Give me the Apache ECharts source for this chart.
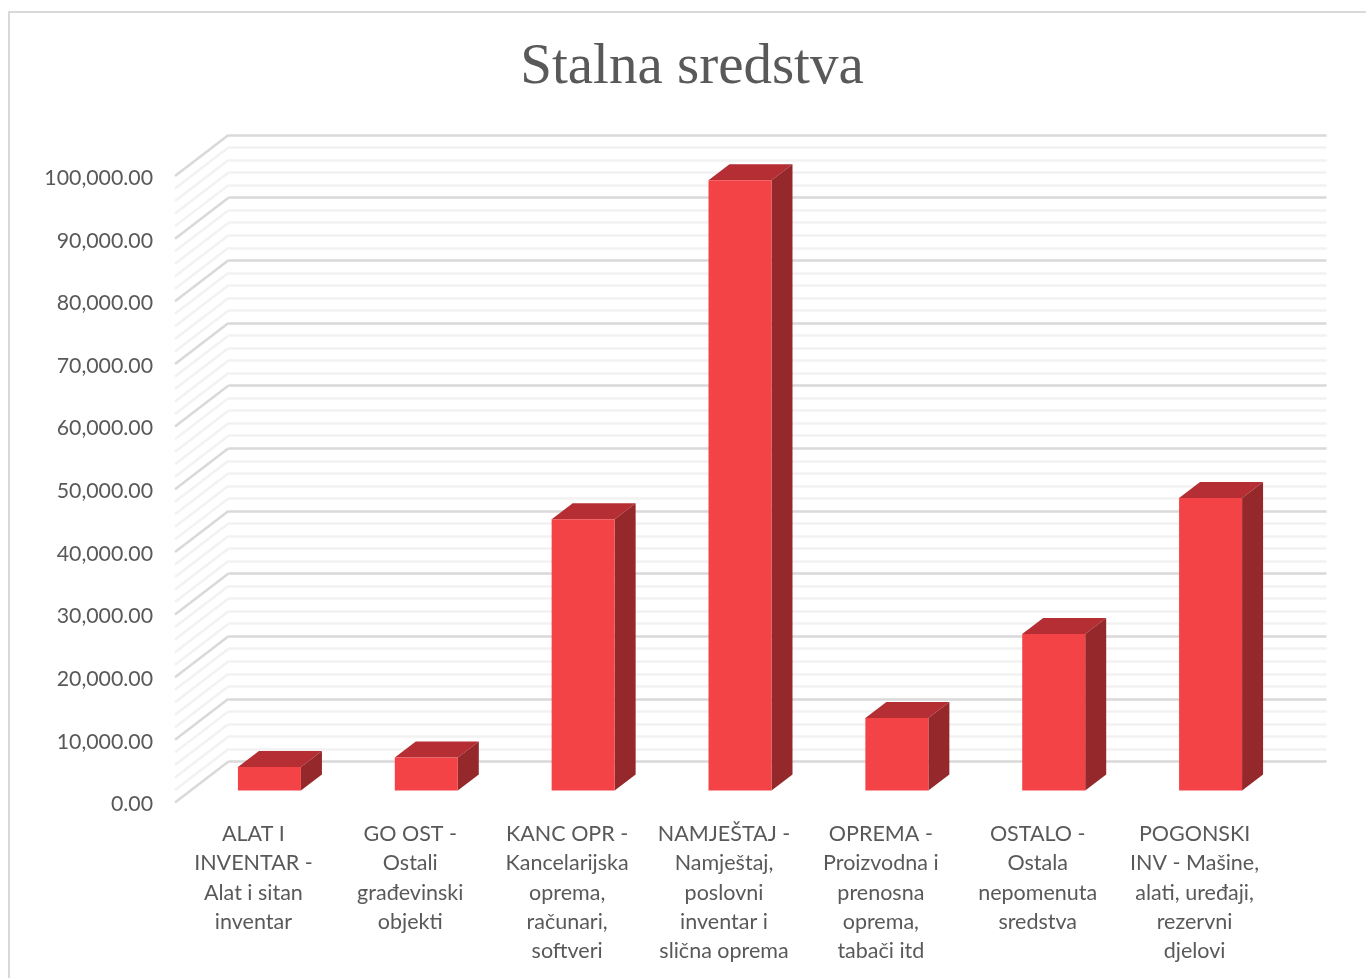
<!DOCTYPE html>
<html><head><meta charset="utf-8">
<style>html,body{margin:0;padding:0;background:#fff}#c{width:1366px;height:978px}</style>
<script src="https://cdn.jsdelivr.net/npm/echarts@6/dist/echarts.min.js"></script>
</head><body><div id="c"></div>
<script>
const categories = [
  'ALAT I\nINVENTAR -\nAlat i sitan\ninventar',
  'GO OST -\nOstali\ngrađevinski\nobjekti',
  'KANC OPR -\nKancelarijska\noprema,\nračunari,\nsoftveri',
  'NAMJEŠTAJ -\nNamještaj,\nposlovni\ninventar i\nslična oprema',
  'OPREMA -\nProizvodna i\nprenosna\noprema,\ntabači itd',
  'OSTALO -\nOstala\nnepomenuta\nsredstva',
  'POGONSKI\nINV - Mašine,\nalati, uređaji,\nrezervni\ndjelovi'
];
const values = [3750, 5270, 43300, 97400, 11570, 24970, 46700];
const wallTicks = [];
for (let t = 0; t <= 100000; t += 2000) wallTicks.push(t);

const W = 1098, H = 626.5, L = 175, T = 176;
const wallDx = 53.5, wallDy = -41;        // full depth of the floor
const gapDx = 16, gapDy = -12;            // front face inset from front edge
const barDx = 21, barDy = -16;            // depth of a bar
const barW = 63;

const chart = echarts.init(document.getElementById('c'), null, {renderer:'canvas'});
const fmt = v => '{a|' + v.toLocaleString('en-US',{minimumFractionDigits:2,maximumFractionDigits:2}) + '}';
const font = 'Lato';
chart.setOption({
  animation:false,
  backgroundColor:'#fff',
  title:{text:'Stalna sredstva',left:687,top:35,textAlign:'center',
    textStyle:{fontFamily:'Liberation Serif',fontSize:57,fontWeight:'normal',color:'#595959'}},
  graphic:[{type:'rect',silent:true,z:-10,shape:{x:9,y:12,width:1400,height:1000},
    style:{fill:'none',stroke:'#d9d9d9',lineWidth:2}}],
  grid:[
    {left:L,top:T,width:W,height:H},
    {left:L+wallDx,top:T+wallDy,width:W,height:H}
  ],
  xAxis:[
    {type:'category',gridIndex:0,data:categories,axisLine:{show:false},axisTick:{show:false},
     axisLabel:{interval:0,margin:17,fontFamily:font,fontSize:21.5,lineHeight:29.3,color:'#595959',align:'center',verticalAlign:'top'}},
    {type:'category',gridIndex:1,data:categories,show:false}
  ],
  yAxis:[
    {type:'value',gridIndex:0,min:0,max:100000,interval:10000,axisLine:{show:false},axisTick:{show:false},splitLine:{show:false},
     axisLabel:{margin:22,formatter:fmt,
       rich:{a:{fontFamily:font,fontSize:21.3,color:'#595959',padding:[4,0,0,0]}}}},
    {type:'value',gridIndex:1,min:0,max:100000,interval:10000,minorTick:{show:false,splitNumber:5},
     axisLine:{show:false},axisTick:{show:false},axisLabel:{show:false},
     splitLine:{show:true,lineStyle:{color:'#d9d9d9',width:2.5}},
     minorSplitLine:{show:true,lineStyle:{color:'#f2f2f2',width:2.5}}}
  ],
  series:[
    {type:'custom',xAxisIndex:0,yAxisIndex:0,z:1,silent:true,
     data:wallTicks.map(t=>[0,t]),
     renderItem(p,api){
       const c=api.coord([0,api.value(1)]);
       const x=c[0]-api.size([1,0])[0]/2, major=api.value(1)%10000===0;
       return {type:'line',shape:{x1:x,y1:c[1],x2:x+wallDx,y2:c[1]+wallDy},
         style:{stroke:major?'#d9d9d9':'#f2f2f2',lineWidth:2.5}};
     }},
    {type:'custom',xAxisIndex:0,yAxisIndex:0,z:3,silent:true,
     data:values.map((v,i)=>[i,v]),
     renderItem(p,api){
       const c0=api.coord([api.value(0),0]), c1=api.coord([api.value(0),api.value(1)]);
       const x0=c0[0]-barW/2+gapDx, x1=x0+barW;
       const yb=c0[1]+gapDy, yt=c1[1]+gapDy;
       return {type:'group',children:[
         {type:'polygon',shape:{points:[[x0,yt],[x1,yt],[x1+barDx,yt+barDy],[x0+barDx,yt+barDy]]},style:{fill:'#b52e33'}},
         {type:'polygon',shape:{points:[[x1,yt],[x1,yb],[x1+barDx,yb+barDy],[x1+barDx,yt+barDy]]},style:{fill:'#95282b'}},
         {type:'rect',shape:{x:x0,y:yt,width:barW,height:yb-yt},style:{fill:'#f34346'}}
       ]};
     }}
  ]
});
</script></body></html>
